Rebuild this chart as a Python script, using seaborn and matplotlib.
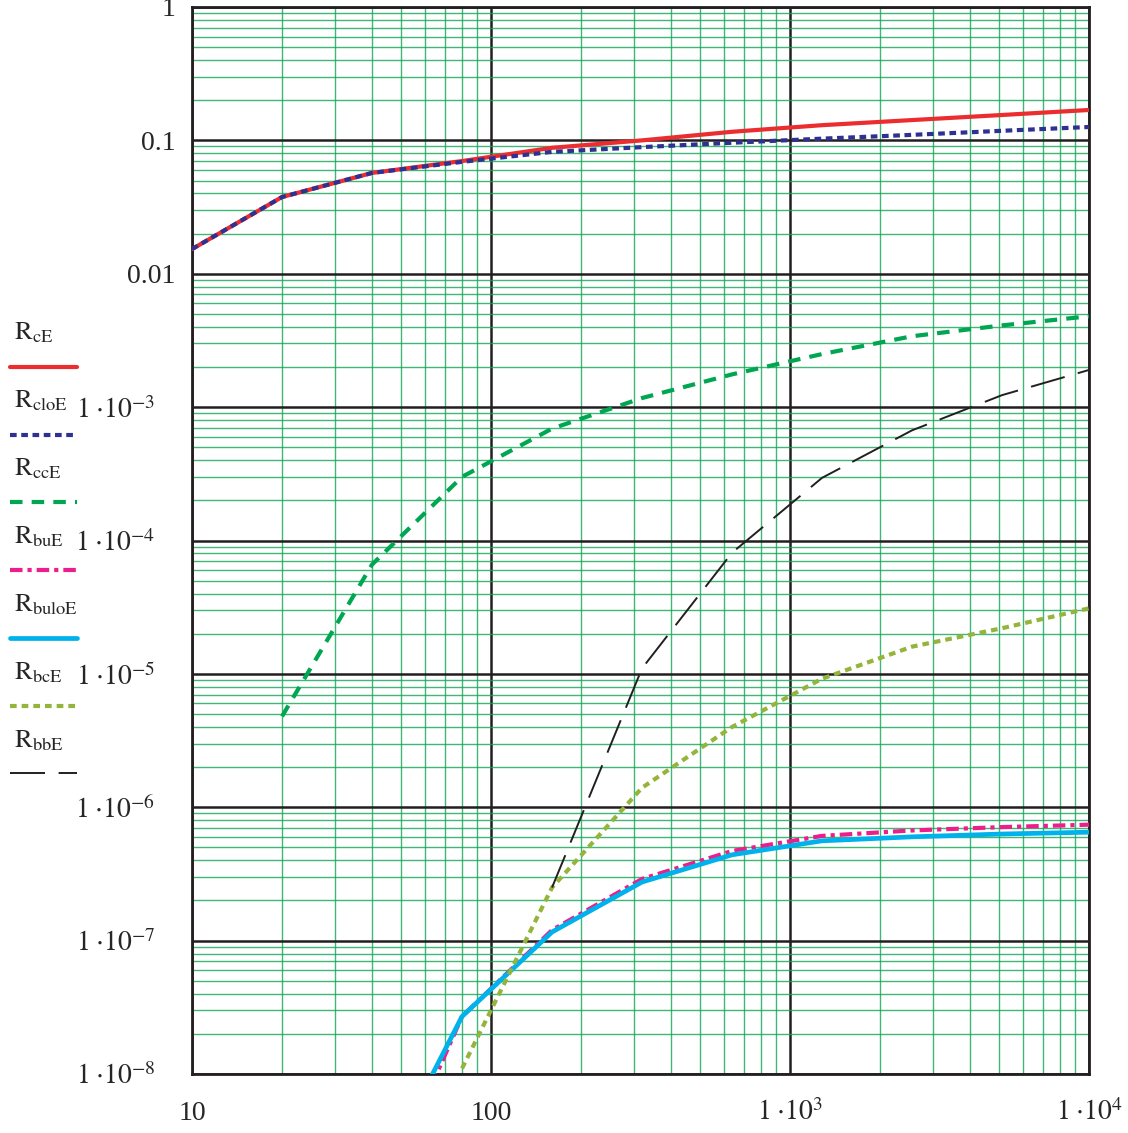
import numpy as np
import pandas as pd
import matplotlib
matplotlib.use('Agg')
import matplotlib.pyplot as plt
import seaborn as sns
from matplotlib.lines import Line2D
from matplotlib.transforms import ScaledTranslation
from matplotlib.ticker import LogLocator, NullFormatter, FixedLocator, FixedFormatter

# ---------------------------------------------------------------------------
# data (x = 10 * 2^k)
# ---------------------------------------------------------------------------
x_all = [10, 20, 40, 80, 160, 320, 640, 1280, 2560, 5120, 10000]

R_cE = [0.0153, 0.0376, 0.057, 0.070, 0.088, 0.100, 0.116, 0.130, 0.142, 0.155, 0.169]
R_cloE = [0.0153, 0.0376, 0.057, 0.069, 0.082, 0.089, 0.096, 0.103, 0.110, 0.118, 0.126]

x_cc = [20, 40, 80, 160, 320, 640, 1280, 2560, 5120, 10000]
R_ccE = [4.8e-6, 6.6e-5, 3.0e-4, 6.9e-4, 1.17e-3, 1.76e-3, 2.5e-3, 3.4e-3, 4.1e-3, 4.8e-3]

x_bu = [40, 80, 160, 320, 640, 1280, 2560, 5120, 10000]
R_buE = [8e-10, 2.7e-8, 1.2e-7, 2.9e-7, 4.7e-7, 6.1e-7, 6.7e-7, 7.1e-7, 7.4e-7]
R_buloE = [1.3e-9, 2.7e-8, 1.16e-7, 2.75e-7, 4.4e-7, 5.6e-7, 6.0e-7, 6.3e-7, 6.5e-7]

x_bc = [80, 160, 320, 640, 1280, 2560, 5120, 10000]
R_bcE = [1.1e-8, 2.5e-7, 1.4e-6, 4.0e-6, 9.2e-6, 1.6e-5, 2.2e-5, 3.1e-5]

x_bb = [160, 320, 640, 1280, 2560, 5120, 10000]
R_bbE = [2.5e-7, 1.1e-5, 8.1e-5, 2.95e-4, 6.7e-4, 1.23e-3, 1.9e-3]

x_ticks = [10, 100, 1000, 10000]
x_ticklabels = ['10', '100', r'$1\;{\cdot}10^{3}$', r'$1\;{\cdot}10^{4}$']
y_ticks = [1, 0.1, 0.01, 1e-3, 1e-4, 1e-5, 1e-6, 1e-7, 1e-8]
y_ticklabels = ['1', '0.1', '0.01'] + [r'$1\;{\cdot}10^{-%d}$' % k for k in range(3, 9)]

# ---------------------------------------------------------------------------
# style
# ---------------------------------------------------------------------------
sns.set_style('white')
plt.rcParams['font.family'] = ['Liberation Serif', 'DejaVu Serif']
plt.rcParams['mathtext.fontset'] = 'stix'

fig = plt.figure(figsize=(11.28, 11.33), dpi=100)
ax = fig.add_axes([192 / 1128, 1 - 1074 / 1133, 897 / 1128, 1067 / 1133])
ax.set_xscale('log')
ax.set_yscale('log')

# (label, x, y, colour, linewidth, linestyle)
series = [
    ('cE', x_all, R_cE, '#ec2d2f', 3.0, '-'),
    ('cloE', x_all, R_cloE, '#2e3192', 3.0, (0, (1.6, 1.1))),
    ('ccE', x_cc, R_ccE, '#00a651', 3.0, (0, (3.0, 2.2))),
    ('buE', x_bu, R_buE, '#ec1e8c', 3.0, (0, (3.0, 1.2, 1.0, 1.2))),
    ('buloE', x_bu, R_buloE, '#00b2ec', 3.4, '-'),
    ('bcE', x_bc, R_bcE, '#94b43c', 3.0, (0, (1.6, 1.2))),
    ('bbE', x_bb, R_bbE, '#231f20', 1.4, (0, (18, 7))),
]

for name, xs, ys, col, lw, ls in series:
    df = pd.DataFrame({'x': xs, 'y': ys})
    sns.lineplot(data=df, x='x', y='y', color=col, lw=lw, linestyle=ls,
                 ax=ax, legend=False, zorder=3)

ax.set_xlim(10, 10000)
ax.set_ylim(1e-8, 1)

# grid: black decades, green subdivisions
ax.xaxis.set_major_locator(FixedLocator(x_ticks))
ax.xaxis.set_major_formatter(FixedFormatter(x_ticklabels))
ax.yaxis.set_major_locator(FixedLocator(y_ticks))
ax.yaxis.set_major_formatter(FixedFormatter(y_ticklabels))
ax.xaxis.set_minor_locator(LogLocator(base=10, subs=np.arange(2, 10), numticks=100))
ax.yaxis.set_minor_locator(LogLocator(base=10, subs=np.arange(2, 10), numticks=100))
ax.xaxis.set_minor_formatter(NullFormatter())
ax.yaxis.set_minor_formatter(NullFormatter())
ax.grid(which='minor', color='#12a555', lw=1.0, alpha=0.8)
ax.grid(which='major', color='#231f20', lw=1.8)
ax.set_axisbelow(True)

ax.tick_params(which='both', length=0)
ax.tick_params(axis='x', labelsize=20, pad=33)
ax.tick_params(axis='y', labelsize=20, pad=12)
for s in ax.spines.values():
    s.set_color('#231f20')
    s.set_linewidth(2)
ax.set_xlabel('')
ax.set_ylabel('')

fig.canvas.draw()
for lab in ax.get_xticklabels():
    lab.set_va('baseline')
# the power-of-ten labels sit a little further left than 0.1 / 0.01
shift = ScaledTranslation(-20 / 100, 0, fig.dpi_scale_trans)
for lab in ax.get_yticklabels()[3:]:
    lab.set_transform(lab.get_transform() + shift)

# legend drawn at the left edge, outside the axes
label_y = [333, 401, 469, 537, 605, 673, 741]
line_y = [367, 435, 502, 570, 638, 706, 773]
for (name, xs, ys, col, lw, ls), ty, ly in zip(series, label_y, line_y):
    fig.text(14 / 1128, 1 - ty / 1133, r'$\mathrm{R}_{\mathrm{%s}}$' % name,
             fontsize=19, va='center', ha='left')
    fig.add_artist(Line2D([10 / 1128, 77 / 1128], [1 - ly / 1133] * 2,
                          color=col, lw=lw, linestyle=ls,
                          transform=fig.transFigure))

plt.savefig('out.png', dpi=100)
plt.close()
